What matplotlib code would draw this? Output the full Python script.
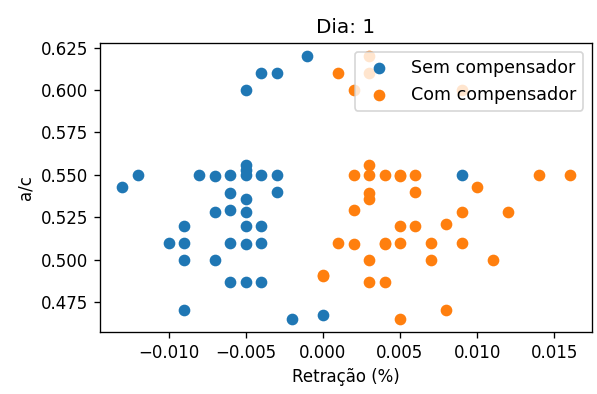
import matplotlib.pyplot as plt
from matplotlib.ticker import MultipleLocator

# Retração (%) e a/c - sem compensador
sem_x = [-0.001, -0.004, -0.003, -0.005,
         -0.012, -0.013, -0.008, -0.007, -0.006, -0.005, -0.005, -0.005, -0.004, -0.003,
         -0.006, -0.005, -0.003, -0.007, -0.006, -0.005,
         -0.009, -0.005, -0.004, -0.010, -0.009, -0.006, -0.005, -0.004,
         -0.009, -0.007, -0.006, -0.005, -0.004,
         -0.009, -0.002, 0.000, 0.009]
sem_y = [0.620, 0.610, 0.610, 0.600,
         0.550, 0.543, 0.550, 0.549, 0.550, 0.556, 0.550, 0.553, 0.550, 0.550,
         0.539, 0.536, 0.540, 0.528, 0.529, 0.528,
         0.520, 0.520, 0.520, 0.510, 0.510, 0.510, 0.509, 0.510,
         0.500, 0.500, 0.487, 0.487, 0.487,
         0.470, 0.465, 0.467, 0.550]

# Retração (%) e a/c - com compensador
com_x = [0.003, 0.001, 0.003, 0.002, 0.009,
         0.003, 0.002, 0.003, 0.004, 0.005, 0.005, 0.006, 0.014, 0.016,
         0.010, 0.003, 0.003, 0.006,
         0.002, 0.009, 0.012, 0.005, 0.006, 0.008,
         0.001, 0.002, 0.004, 0.004, 0.005, 0.007, 0.009,
         0.003, 0.007, 0.011, 0.000, 0.000,
         0.003, 0.004, 0.008, 0.005]
com_y = [0.620, 0.610, 0.610, 0.600, 0.600,
         0.556, 0.550, 0.550, 0.550, 0.550, 0.549, 0.550, 0.550, 0.550,
         0.543, 0.539, 0.536, 0.540,
         0.529, 0.528, 0.528, 0.520, 0.520, 0.521,
         0.510, 0.509, 0.509, 0.510, 0.510, 0.510, 0.510,
         0.500, 0.500, 0.500, 0.490, 0.491,
         0.487, 0.487, 0.470, 0.465]

fig = plt.figure(figsize=(597 / 120, 394 / 120), dpi=120)
ax = fig.add_axes([100 / 597, 1 - 332 / 394, 492 / 597, 289 / 394])

ax.scatter(sem_x, sem_y, label='Sem compensador')
ax.scatter(com_x, com_y, label='Com compensador')

ax.yaxis.set_major_locator(MultipleLocator(0.025))
ax.xaxis.set_major_locator(MultipleLocator(0.005))

ax.set_xlabel('Retração (%)')
ax.set_ylabel('a/c')
ax.set_title('Dia: 1')
ax.legend(loc='upper right', fontsize=10.5)

fig.savefig('out.png', dpi=120)
